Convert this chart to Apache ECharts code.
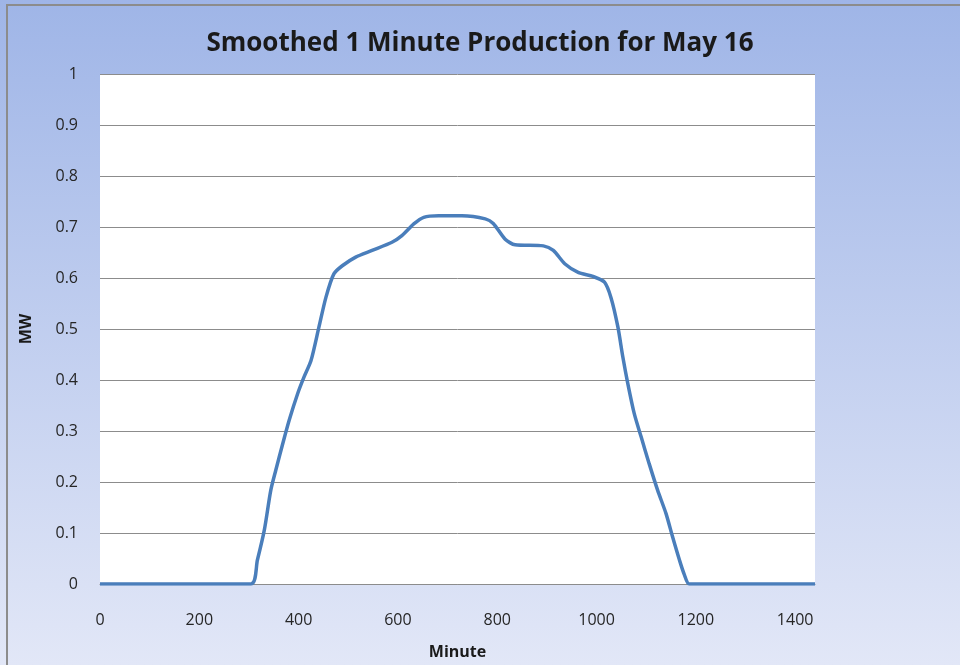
<!DOCTYPE html>
<html>
<head>
<meta charset="utf-8">
<script src="https://cdn.jsdelivr.net/npm/echarts@6/dist/echarts.min.js"></script>
<style>
  html, body { margin: 0; padding: 0; }
  #main { width: 960px; height: 665px; }
</style>
</head>
<body>
<div id="main"></div>
<script>
// minutes of the day and smoothed production (MW)
var minutes = [0, 304, 317, 331, 344, 354, 368, 381, 398, 411, 425, 441, 455, 471, 488, 515, 548, 588, 608, 632, 652, 682, 729, 776, 792, 816, 836, 893, 913, 936, 963, 993, 1016, 1029, 1043, 1053, 1063, 1076, 1090, 1106, 1123, 1140, 1153, 1167, 1177, 1187, 1440];
var mw = [0, 0, 0.047, 0.106, 0.184, 0.223, 0.275, 0.321, 0.373, 0.406, 0.438, 0.504, 0.562, 0.608, 0.624, 0.641, 0.654, 0.670, 0.683, 0.706, 0.719, 0.722, 0.722, 0.716, 0.707, 0.676, 0.665, 0.663, 0.654, 0.628, 0.611, 0.603, 0.592, 0.562, 0.504, 0.445, 0.393, 0.334, 0.288, 0.236, 0.184, 0.138, 0.093, 0.047, 0.018, 0, 0];

var points = [];
for (var i = 0; i < minutes.length; i++) {
    points.push([minutes[i], mw[i]]);
}

var font = 'Open Sans';
var myChart = echarts.init(document.getElementById('main'));
var option = {
    animation: false,
    backgroundColor: {
        type: 'linear', x: 0, y: 0, x2: 0, y2: 1,
        colorStops: [
            { offset: 0, color: '#9fb5e7' },
            { offset: 1, color: '#e2e7f7' }
        ]
    },
    graphic: [{
        type: 'rect',
        shape: { x: 7, y: 5, width: 960, height: 670 },
        style: { fill: 'none', stroke: '#8c8c8c', lineWidth: 2 },
        silent: true
    }],
    title: {
        text: 'Smoothed 1 Minute Production for May 16',
        left: 'center',
        top: 26,
        textStyle: { fontFamily: font, fontSize: 26, fontWeight: 'bold', color: '#1a1a1a' }
    },
    grid: {
        left: 100, right: 145, top: 74, bottom: 81,
        show: true, backgroundColor: '#ffffff', borderWidth: 0
    },
    xAxis: {
        type: 'value',
        min: 0, max: 1440, interval: 200,
        name: 'Minute',
        nameLocation: 'middle',
        nameGap: 60,
        nameTextStyle: { fontFamily: font, fontSize: 16, fontWeight: 'bold', color: '#1a1a1a' },
        axisLine: { show: true, lineStyle: { color: '#8c8c8c', width: 1 } },
        axisTick: { show: false },
        splitLine: { show: false },
        axisLabel: {
            showMaxLabel: false, margin: 28, fontFamily: font, fontSize: 16, color: '#262626',
            formatter: function (v) { return String(v); }
        }
    },
    yAxis: {
        type: 'value',
        min: 0, max: 1, interval: 0.1,
        name: 'MW',
        nameLocation: 'middle',
        nameGap: 66,
        nameTextStyle: { fontFamily: font, fontSize: 16, fontWeight: 'bold', color: '#1a1a1a' },
        axisLine: { show: false },
        axisTick: { show: false },
        splitLine: { lineStyle: { color: '#8c8c8c', width: 1 } },
        axisLabel: {
            margin: 22, fontFamily: font, fontSize: 16, color: '#262626',
            formatter: function (v) { return String(Math.round(v * 10) / 10); }
        }
    },
    series: [{
        type: 'line',
        data: points,
        smooth: 0.25,
        showSymbol: false,
        lineStyle: { color: '#4a7ebb', width: 3.5 }
    }]
};
myChart.setOption(option);
</script>
</body>
</html>
